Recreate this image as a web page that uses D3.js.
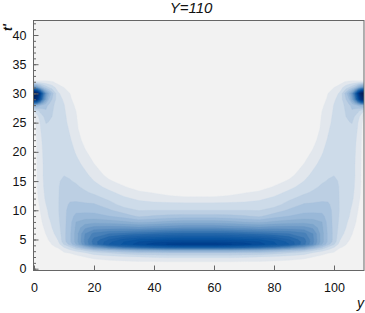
<!DOCTYPE html>
<html><head><meta charset="utf-8">
<script src="https://cdn.jsdelivr.net/npm/d3@7"></script>
<style>html,body{margin:0;padding:0;background:#fff}svg{display:block}text{font-family:"Liberation Sans",Arial,sans-serif;fill:#111}</style>
</head><body><svg id="c" width="365" height="313"></svg>
<script>
const titleText = "Y=110";
const xTicks = [0,20,40,60,80,100];
const yTicks = [0,5,10,15,20,25,30,35,40];
const yMinor = d3.range(0,43);
// half of the symmetric field: columns for y = 0..55
const yCols = [0,1,2,3,4,5,6,8,10,12,14,17,20,25,30,35,40,45,50,55];
const tRows = [-0.4,0.5,1.2,2,2.7,3.2,3.7,4.2,4.6,5,6,7,8,9,10,11,12,13,14,15,16,18,20,22,24,25,26,27,28,29,30,31,32,32.6,43];
const field = [
[0,0,0,0,0,0,0,0,0,0,0,0,0,0,0,0,0,0,0,0],
[0,0,0,0,0,0,0,0,0,0,0,0,.08,.12,.2,.25,.27,.3,.3,.3],
[0,0,0,0,0,0,0,0,0,.05,.1,.3,.55,.7,.85,.95,.97,1,1,1],
[0,0,0,0,0,0,0,.1,.3,.45,.65,1,1.3,1.6,1.85,2,2.1,2.2,2.2,2.2],
[0,0,0,0,0,.05,.2,.45,.9,1.05,1.4,1.9,2.5,3,3.4,3.8,3.9,4,4,4],
[0,0,0,0,.05,.25,.5,.7,1.3,1.9,2.5,3.3,4.3,5,5.8,6.5,6.8,7,7,7],
[0,0,0,0,.1,.5,.8,1.15,2.1,3,4.2,6,8,10,11.5,12.5,13.2,13.7,14,14],
[0,0,0,.05,.3,.7,1.05,1.5,3.1,4.4,6,9,11.3,14,15.2,16.5,17.5,18.1,18.5,18.5],
[0,0,0,.1,.5,.9,1.25,1.85,3.6,4.8,6.4,9.2,11.5,13.7,15,16,16.6,16.9,17,17],
[0,0,0,.2,.7,1.1,1.45,2.05,3.7,4.8,6.4,9.2,11.3,13,14.3,15,15.3,15.5,15.7,15.7],
[0,0,.15,.6,1.05,1.45,1.75,2.4,3.7,4.8,6.4,9,10.3,11,11.3,11.7,12,12.2,12.3,12.3],
[0,0,.4,.9,1.3,1.65,2,2.6,3.7,4.7,6.2,7.8,8.4,8.5,8.5,8.3,8.6,8.8,9,9],
[0,.2,.65,1.15,1.5,1.85,2.15,2.75,3.7,4.6,6,6.5,6.65,6.5,6.2,5.75,6,6.3,6.5,6.5],
[.05,.35,.85,1.3,1.7,2.05,2.3,2.85,3.7,4.5,5.3,5.4,5.4,5,4.5,3.8,4.1,4.3,4.4,4.4],
[.1,.5,1,1.5,1.85,2.15,2.4,2.9,3.7,4.4,4.7,4.7,4.65,4.15,3.45,2.95,3,3,3,3],
[.15,.65,1.15,1.7,2,2.25,2.5,2.9,3.65,4.15,4.2,4.15,4.1,3.45,2.55,2.4,2.3,2.25,2.25,2.25],
[.2,.8,1.35,1.85,2.1,2.3,2.55,2.9,3.6,3.8,3.8,3.6,3.4,2.8,2.2,1.8,1.6,1.45,1.35,1.35],
[.25,.9,1.45,1.9,2.15,2.35,2.6,2.9,3.5,3.55,3.5,3.15,2.85,2.25,1.65,1.25,.95,.6,.3,.2],
[.3,.95,1.5,1.95,2.2,2.4,2.6,2.9,3.4,3.3,3.15,2.8,2.4,1.7,1.1,.4,.25,.1,0,0],
[.3,1,1.55,1.97,2.2,2.4,2.65,2.88,3.2,3.05,2.9,2.5,2,1.15,.5,0,0,0,0,0],
[.35,1,1.6,2,2.25,2.45,2.65,2.85,2.98,2.9,2.7,2.25,1.65,.65,0,0,0,0,0,0],
[.35,1.02,1.65,2,2.3,2.5,2.7,2.8,2.85,2.65,2.3,1.7,1,0,0,0,0,0,0,0],
[.4,1.05,1.7,2.05,2.35,2.55,2.75,2.75,2.7,2.4,1.9,1.15,.4,0,0,0,0,0,0,0],
[.4,1.1,1.75,2.15,2.5,2.65,2.8,2.7,2.55,2.1,1.6,.6,0,0,0,0,0,0,0,0],
[.5,1.2,1.9,2.4,2.75,2.8,2.85,2.65,2.4,1.85,1.3,0,0,0,0,0,0,0,0,0],
[.6,1.3,2,2.5,3.05,2.95,2.95,2.6,2.3,1.7,1.2,0,0,0,0,0,0,0,0,0],
[.8,1.6,2.4,2.9,3.3,3.15,3,2.55,2.25,1.55,1.1,0,0,0,0,0,0,0,0,0],
[2,2.6,3.2,3.5,3.9,3.5,3.1,2.5,2.15,1.45,1,0,0,0,0,0,0,0,0,0],
[6,6,5.2,4.8,4.3,3.8,3.3,2.4,2.05,1.3,.85,0,0,0,0,0,0,0,0,0],
[22,20,15,10,7,5,4,2.4,1.85,1.15,.6,0,0,0,0,0,0,0,0,0],
[25,23,18,12,8,6,4.5,2.2,1.5,1,.4,0,0,0,0,0,0,0,0,0],
[9,8,6,4.5,3.6,3,2.6,1.5,1,.6,.2,0,0,0,0,0,0,0,0,0],
[1.3,1.3,1.3,1.3,1.25,1.2,1.1,.6,.2,0,0,0,0,0,0,0,0,0,0,0],
[.3,.3,.3,.3,.3,.2,.1,0,0,0,0,0,0,0,0,0,0,0,0,0],
[0,0,0,0,0,0,0,0,0,0,0,0,0,0,0,0,0,0,0,0]
];
const levels = d3.range(1,25);
const ramp = d3.scaleLinear()
  .domain([0,1,2,3,4,7,12,15,18,20,24])
  .range(["#f2f2f2","#e2e7ed","#cddbe9","#bccfe3","#a9c3de","#7aa3cb","#2668ab","#0a54a0","#003d8c","#00337c","#001f58"])
  .interpolate(d3.interpolateRgb);

const W=365,H=313;
const m={l:33.5,r:364,t:20.5,b:270.5};
const x=d3.scaleLinear().domain([0,110]).range([34,364]);
const y=d3.scaleLinear().domain([0,40]).range([268.7,35]);
const svg=d3.select("#c");
svg.append("defs").append("clipPath").attr("id","plot").append("rect")
  .attr("x",m.l).attr("y",m.t).attr("width",m.r-m.l).attr("height",m.b-m.t);
svg.append("rect").attr("x",m.l).attr("y",m.t).attr("width",m.r-m.l).attr("height",m.b-m.t).attr("fill",ramp(0));

// mirror the half field about y = 55
const allCols=yCols.concat(yCols.slice(0,-1).reverse().map(v=>110-v));
const nx=allCols.length, ny=tRows.length;
const flat=[];
field.forEach(r=>{ flat.push(...r, ...r.slice(0,-1).reverse()); });
const ix=d3.scaleLinear().domain(d3.range(nx)).range(allCols).clamp(true);
const iy=d3.scaleLinear().domain(d3.range(ny)).range(tRows).clamp(true);
const contours=d3.contours().size([nx,ny]).thresholds(levels)(flat);
const pathOf=g=>g.coordinates.map(poly=>poly.map(ring=>
  "M"+ring.map(p=>x(ix(p[0]-.5)).toFixed(2)+","+y(iy(p[1]-.5)).toFixed(2)).join("L")+"Z").join("")).join("");
svg.append("g").attr("clip-path","url(#plot)").selectAll("path").data(contours).join("path")
  .attr("d",pathOf).attr("fill",d=>ramp(d.value)).attr("fill-rule","evenodd")
  .attr("stroke",d=>ramp(d.value)).attr("stroke-width",.3);

const axisColor="#666";
const style=(g,fs)=>{g.select(".domain").remove();g.selectAll("line").attr("stroke",axisColor);
  g.selectAll("text").attr("font-size",fs).attr("fill","#111");};
svg.append("g").attr("transform",`translate(0,${m.b})`)
  .call(d3.axisBottom(x).tickValues(xTicks).tickSizeInner(-5).tickSizeOuter(0).tickPadding(13).tickFormat(d3.format("d")))
  .call(g=>style(g,12.5));
svg.append("g").attr("transform",`translate(${m.l},0)`)
  .call(d3.axisLeft(y).tickValues(yMinor).tickSizeInner(-2.5).tickSizeOuter(0).tickFormat(""))
  .call(g=>style(g,12.5));
svg.append("g").attr("transform",`translate(${m.l},0)`)
  .call(d3.axisLeft(y).tickValues(yTicks).tickSizeInner(-5).tickSizeOuter(0).tickPadding(7).tickFormat(d3.format("d")))
  .call(g=>style(g,12.5));
svg.append("rect").attr("x",m.l).attr("y",m.t).attr("width",m.r-m.l).attr("height",m.b-m.t)
  .attr("fill","none").attr("stroke",axisColor).attr("stroke-width",1);
svg.append("text").attr("x",191).attr("y",13).attr("text-anchor","middle").attr("font-size",15).attr("font-style","italic").text(titleText);
svg.append("text").attr("transform","translate(12,31) rotate(-90)").attr("font-size",12).attr("font-style","italic").attr("font-weight","bold").text("t′");
svg.append("text").attr("x",357).attr("y",308).attr("font-size",14).attr("font-style","italic").text("y");
</script></body></html>
